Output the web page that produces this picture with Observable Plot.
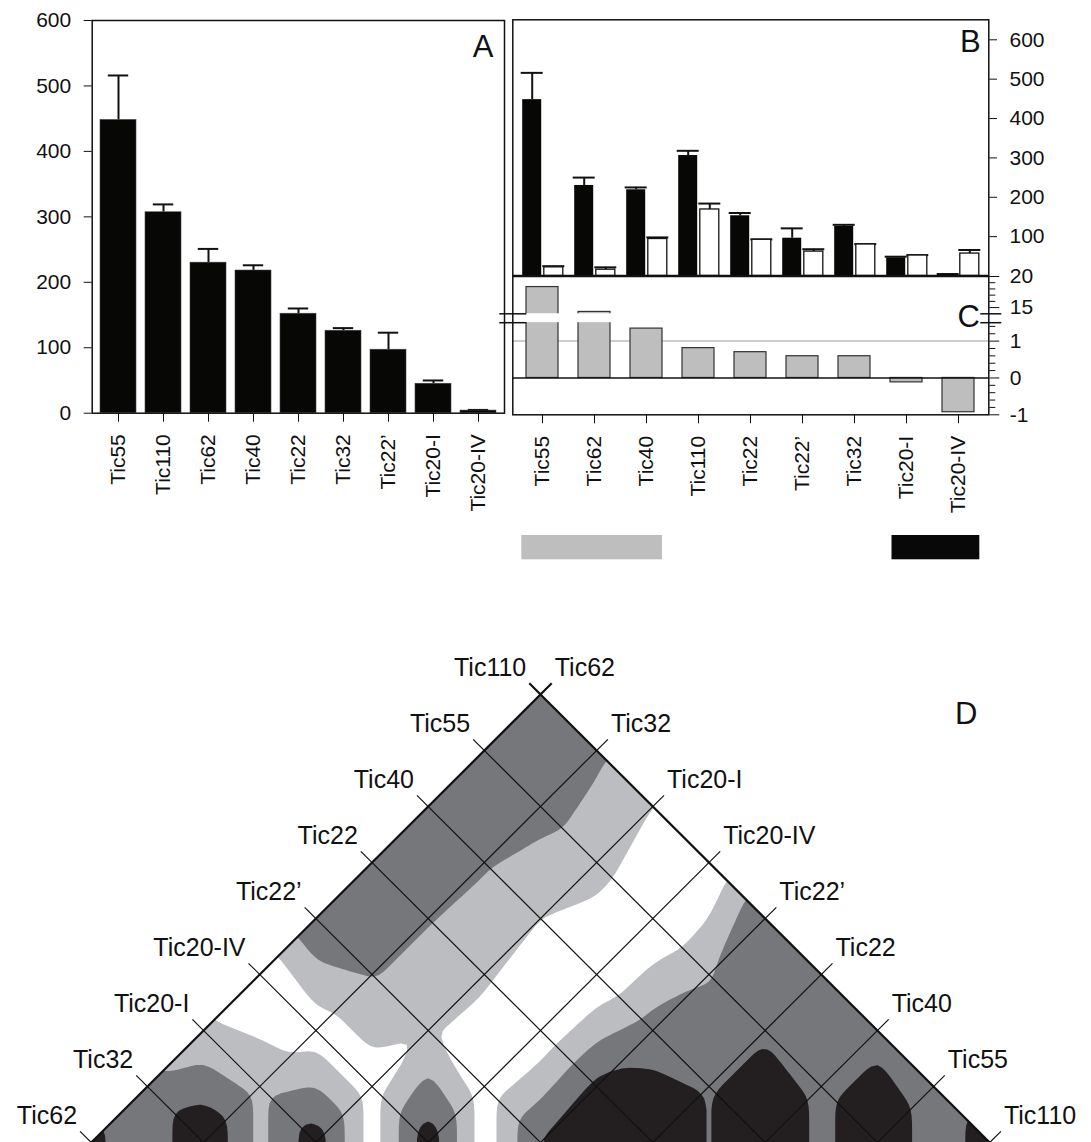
<!DOCTYPE html>
<html><head><meta charset="utf-8">
<script src="https://cdn.jsdelivr.net/npm/d3@7"></script>
<script src="https://cdn.jsdelivr.net/npm/@observablehq/plot@0.6"></script>
<style>
html,body{margin:0;padding:0;background:#fff;overflow:hidden;}
#wrap{position:relative;width:1091px;height:1142px;overflow:hidden;background:#fff;}
#wrap svg{position:absolute;left:0;}
</style></head><body><div id="wrap"></div>
<script>
// ---------- data ----------
const catsA = ["Tic55","Tic110","Tic62","Tic40","Tic22","Tic32","Tic22’","Tic20-I","Tic20-IV"];
const valuesA = [448, 307, 230, 218, 152, 126, 97, 45, 4];
const errA = [68, 12, 21, 8, 8, 4, 26, 5, 1];
const ticksA = [0, 100, 200, 300, 400, 500, 600];

const catsB = ["Tic55","Tic62","Tic40","Tic110","Tic22","Tic22’","Tic32","Tic20-I","Tic20-IV"];
const blackB = [448, 230, 219, 306, 153, 96, 126, 46, 4];
const blackErr = [68, 20, 6, 12, 7, 25, 4, 3, 1];
const whiteB = [22, 16, 94, 169, 92, 62, 80, 52, 57];
const whiteErr = [3, 6, 4, 15, 1, 6, 1, 1, 9];
const ticksB = [100, 200, 300, 400, 500, 600];

const ratioC = [18.3, 14.3, 1.34, 0.81, 0.70, 0.59, 0.59, -0.12, -0.93];
const ticksCLow = [-1, 0, 1];
const minorCLow = [-0.8, -0.6, -0.4, -0.2, 0.2, 0.4, 0.6, 0.8, 1.2, 1.4];
const ticksCHigh = [15, 20];
const minorCHigh = [16, 17, 18, 19];
const breakLow = 1.5, breakHigh = 14;

const groupFrom = ["Tic55", "Tic20-I"];
const groupTo = ["Tic40", "Tic20-IV"];
const groupFill = ["#bebebe", "#080808"];

// panel D: order along the triangle edges and upper-triangle values (row i, columns j>=i)
const itemsD = ["Tic62","Tic32","Tic20-I","Tic20-IV","Tic22’","Tic22","Tic40","Tic55","Tic110"];
const ldRows = [
  [0.82, 0.55, 0.30, 0.02, 0.73, 0.76, 0.65, 0.65, 0.62],
  [1.00, 0.42, 0.12, 0.52, 0.52, 0.53, 0.60, 0.55],
  [0.90, 0.12, 0.27, 0.28, 0.25, 0.35, 0.25],
  [0.92, 0.10, 0.05, 0.02, 0.00, 0.02],
  [0.78, 0.82, 0.62, 0.48, 0.76],
  [1.00, 0.72, 0.72, 0.62],
  [1.00, 0.68, 0.68],
  [0.96, 0.62],
  [0.85]
];
const ldThresholds = [0.25, 0.5, 0.75];
const ldColors = ["#bcbdc0", "#76777b", "#231f20"];

// ---------- layout ----------
const W = 1091;
const FONT = '"Liberation Sans", Arial, Helvetica, sans-serif';
const wrap = document.getElementById("wrap");
function place(svg, top) { svg.style.top = top + "px"; wrap.appendChild(svg); }
const baseStyle = {background: "transparent", fontFamily: FONT, fontSize: "21px", color: "#111", maxWidth: "none"};

// ---------- Panel A ----------
const dataA = catsA.map((c, i) => ({cat: c, v: valuesA[i], e: errA[i]}));
place(Plot.plot({
  width: W, height: 560,
  marginLeft: 91.7, marginRight: W - 504, marginTop: 20, marginBottom: 560 - 412.7,
  style: baseStyle,
  x: {domain: catsA, paddingInner: 0.19, paddingOuter: 0.095, label: null},
  y: {domain: [0, 600], label: null},
  marks: [
    Plot.ruleX(dataA, {x: "cat", y1: "v", y2: d => d.v + d.e, strokeWidth: 2}),
    Plot.tickY(dataA, {x: "cat", y: d => d.v + d.e, strokeWidth: 2, inset: 7.8}),
    Plot.barY(dataA, {x: "cat", y: "v", fill: "#070705", stroke: "#444", strokeWidth: 0.6}),
    Plot.axisY({ticks: ticksA, tickSize: 8, tickPadding: 13, label: null, tickFormat: d => String(d)}),
    Plot.axisX({tickSize: 9, tickPadding: 12, tickRotate: -90, label: null}),
    Plot.frame({strokeWidth: 1.5}),
    Plot.text(["A"], {frameAnchor: "top-right", dx: -11, dy: 14, fontSize: 31})
  ]
}), 0);

// ---------- Panel B ----------
const dataBk = catsB.map((c, i) => ({cat: c, v: blackB[i], e: blackErr[i]}));
const dataBw = catsB.map((c, i) => ({cat: c, v: whiteB[i], e: whiteErr[i]}));
place(Plot.plot({
  width: W, height: 300,
  marginLeft: 512.3, marginRight: W - 988.3, marginTop: 19.3, marginBottom: 300 - 275.5,
  style: baseStyle,
  x: {domain: catsB, paddingInner: 0.64, paddingOuter: 0.32, label: null},
  y: {domain: [0, 650.8], label: null},
  marks: [
    Plot.ruleX(dataBk, {x: "cat", y1: "v", y2: d => d.v + d.e, dx: -10.8, strokeWidth: 2}),
    Plot.tickY(dataBk, {x: "cat", y: d => d.v + d.e, dx: -10.8, strokeWidth: 2, inset: -1.5}),
    Plot.ruleX(dataBw, {x: "cat", y1: "v", y2: d => d.v + d.e, dx: 10.8, strokeWidth: 2}),
    Plot.tickY(dataBw, {x: "cat", y: d => d.v + d.e, dx: 10.8, strokeWidth: 2, inset: -1.5}),
    Plot.barY(dataBk, {x: "cat", y: "v", dx: -10.8, fill: "#070705"}),
    Plot.barY(dataBw, {x: "cat", y: "v", dx: 10.8, fill: "white", stroke: "#111", strokeWidth: 1.3}),
    Plot.axisY({anchor: "right", ticks: ticksB, tickSize: 7.7, tickPadding: 13, label: null, tickFormat: d => String(d)}),
    Plot.axisX({tickSize: 10, tickFormat: () => "", label: null}),
    Plot.frame({strokeWidth: 1.5}),
    Plot.ruleY([0], {strokeWidth: 2.5}),
    Plot.text(["B"], {frameAnchor: "top-right", dx: -8, dy: 10, fontSize: 31})
  ]
}), 0);

// ---------- Panel C (broken axis: lower segment and upper segment) ----------
const dataC = catsB.map((c, i) => ({cat: c, v: ratioC[i]}));
const cBottomPx = 414.3, cBreakLowPx = 322.2, cTopPx = 276, cBreakHighPx = 313.3;
const cLowTop = -1 + (cBottomPx - cTopPx) * (breakLow + 1) / (cBottomPx - cBreakLowPx);
const H_CL = 560;
place(Plot.plot({
  width: W, height: H_CL,
  marginLeft: 512.3, marginRight: W - 988.3, marginTop: cTopPx, marginBottom: H_CL - cBottomPx,
  style: baseStyle,
  x: {domain: catsB, paddingInner: 0.39, paddingOuter: 0.195, label: null},
  y: {domain: [-1, cLowTop], label: null},
  marks: [
    Plot.ruleY([1], {stroke: "#bdbdbd", strokeWidth: 1.5}),
    Plot.barY(dataC, {x: "cat", y: "v", fill: "#bebebe", stroke: "#333", strokeWidth: 1.2, clip: true}),
    Plot.rect([[breakLow, cLowTop]], {y1: d => d[0], y2: d => d[1], fill: "white"}),
    Plot.ruleY([0], {strokeWidth: 1.5}),
    Plot.axisY({anchor: "right", ticks: ticksCLow, tickSize: 10, tickPadding: 11, label: null, tickFormat: d => String(d)}),
    Plot.axisY({anchor: "right", ticks: minorCLow, tickSize: 6, tickFormat: () => "", label: null}),
    Plot.axisX({tickSize: 9, tickPadding: 12, tickRotate: -90, label: null}),
    Plot.frame({strokeWidth: 1.5}),
    Plot.ruleY([breakLow], {insetLeft: -13, insetRight: 462, strokeWidth: 1.5}),
    Plot.ruleY([breakLow], {insetLeft: 468, insetRight: -13, strokeWidth: 1.5})
  ]
}), 0);
const H_CH = 380;
place(Plot.plot({
  width: W, height: H_CH,
  marginLeft: 512.3, marginRight: W - 988.3, marginTop: cTopPx, marginBottom: H_CH - cBreakHighPx,
  style: baseStyle,
  x: {domain: catsB, paddingInner: 0.39, paddingOuter: 0.195, axis: null},
  y: {domain: [breakHigh, 20], label: null},
  marks: [
    Plot.barY(dataC, {x: "cat", y: "v", fill: "#bebebe", stroke: "#333", strokeWidth: 1.2, clip: true}),
    Plot.axisY({anchor: "right", ticks: ticksCHigh, tickSize: 10, tickPadding: 11, label: null, tickFormat: d => String(d)}),
    Plot.axisY({anchor: "right", ticks: minorCHigh, tickSize: 6, tickFormat: () => "", label: null}),
    Plot.ruleY([breakHigh], {insetLeft: -13, insetRight: 462, strokeWidth: 1.5}),
    Plot.ruleY([breakHigh], {insetLeft: 468, insetRight: -13, strokeWidth: 1.5}),
    Plot.text(["C"], {frameAnchor: "top-right", dx: -9, dy: 28, fontSize: 31})
  ]
}), 0);

// ---------- group strip ----------
const groups = groupFrom.map((f, k) => ({from: f, to: groupTo[k], fill: groupFill[k]}));
place(Plot.plot({
  width: W, height: 570,
  marginLeft: 512.3, marginRight: W - 988.3, marginTop: 535, marginBottom: 570 - 559.3,
  style: baseStyle,
  x: {domain: [-0.5, catsB.length - 0.5], axis: null},
  color: {type: "identity"},
  marks: [
    Plot.rect(groups, {x1: d => catsB.indexOf(d.from) - 0.33, x2: d => catsB.indexOf(d.to) + 0.33, fill: "fill"})
  ]
}), 0);

// ---------- Panel D ----------
const n = itemsD.length;
const M = Array.from({length: n}, () => new Array(n).fill(0));
ldRows.forEach((row, i) => row.forEach((v, k) => { M[i][i + k] = v; M[i + k][i] = v; }));
// linear interpolation on triangles split along the anti-diagonal (vertical in the rotated view)
function field(i, j) {
  const i0 = Math.min(Math.floor(i), n - 2), j0 = Math.min(Math.floor(j), n - 2);
  const fi = i - i0, fj = j - j0;
  const m00 = M[i0][j0], m10 = M[i0 + 1][j0], m01 = M[i0][j0 + 1], m11 = M[i0 + 1][j0 + 1];
  if (fi + fj <= 1) return m00 + fi * (m10 - m00) + fj * (m01 - m00);
  return m11 + (1 - fi) * (m01 - m11) + (1 - fj) * (m10 - m11);
}
const K = 16, G = (n - 1) * K + 1;
const grid = new Float64Array(G * G);
for (let b = 0; b < G; ++b) for (let a = 0; a < G; ++a) grid[b * G + a] = field(a / K, b / K);
if (d3.blur2) d3.blur2({data: grid, width: G, height: G}, 1);
const clampD = c => Math.max(0, Math.min(n - 1, (c - 0.5) / K));
const contours = d3.contours().size([G, G]).thresholds(ldThresholds)(grid).map(g => ({
  type: "MultiPolygon", value: g.value,
  coordinates: g.coordinates.map(poly => poly.map(ring => ring.map(([x, y]) => [clampD(x), clampD(y)])))
}));

const TOP_D = 640;
const projD = d3.geoTransform({
  point(i, j) { this.stream.point(540 + 56.15 * (i + j - (n - 1)), (694 - TOP_D) + 56 * ((n - 1) - j + i)); }
});
const colLines = itemsD.map((name, j) => ({name, x1: -0.2, y1: j, x2: j, y2: j, edge: j === n - 1}));
const rowLines = itemsD.map((name, i) => ({name, x1: i, y1: n - 1 + 0.2, x2: i, y2: i, edge: i === 0}));
const gridLines = colLines.concat(rowLines);

place(Plot.plot({
  width: W, height: 1142 - TOP_D,
  margin: 0,
  style: {...baseStyle, fontSize: "25px"},
  projection: projD,
  color: {type: "ordinal", domain: ldThresholds, range: ldColors},
  marks: [
    Plot.geo(contours, {fill: "value", stroke: "none"}),
    Plot.link(gridLines.filter(d => !d.edge), {x1: "x1", y1: "y1", x2: "x2", y2: "y2", stroke: "#111", strokeWidth: 1.2}),
    Plot.link(gridLines.filter(d => d.edge), {x1: "x1", y1: "y1", x2: "x2", y2: "y2", stroke: "#111", strokeWidth: 2.2}),
    Plot.text(colLines, {x: "x1", y: "y1", text: "name", textAnchor: "end", lineAnchor: "bottom", dx: -3, dy: -7, fontSize: 25, fill: "#111"}),
    Plot.text(rowLines, {x: "x1", y: "y1", text: "name", textAnchor: "start", lineAnchor: "bottom", dx: 3, dy: -7, fontSize: 25, fill: "#111"}),
    Plot.text(["D"], {frameAnchor: "top-right", dx: -114, dy: 61, fontSize: 31, fill: "#111"})
  ]
}), TOP_D);
</script></body></html>
